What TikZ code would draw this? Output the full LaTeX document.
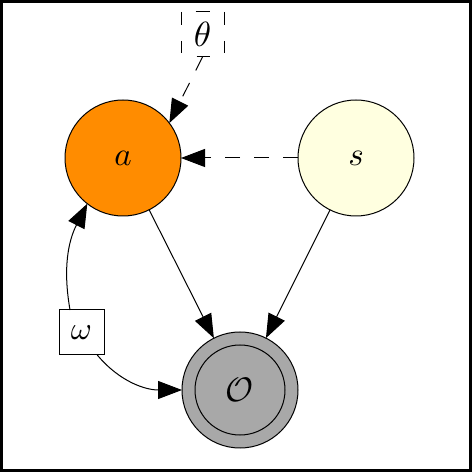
\documentclass[tikz,border=0pt]{standalone}
\usepackage{graphicx}
\usetikzlibrary{arrows.meta}
\definecolor{aorange}{HTML}{FF8C00}
\definecolor{syellow}{HTML}{FFFFE0}
\definecolor{ogray}{HTML}{A8A8A8}
\newcommand{\bigtxt}[2]{\scalebox{#1}{$#2$}}
\begin{document}
\begin{tikzpicture}[x=1pt,y=1pt,
  varnode/.style={circle,draw=black,line width=1pt,minimum size=116pt,inner sep=0pt,outer sep=0pt},
  boxnode/.style={rectangle,draw=black,line width=1pt,minimum width=45pt,minimum height=45pt,inner sep=0pt,outer sep=0pt},
  edgeline/.style={line width=1pt,-{Triangle[length=24pt,width=18pt]}},
  dashedge/.style={edgeline,dash pattern=on 15pt off 14pt},
  boxdash/.style={line width=1pt}]
\useasboundingbox (0,0) rectangle (472,472);
\draw[line width=3pt] (1.5,1.5) rectangle (470.5,470.5);
\node[varnode,fill=aorange] (a) at (123,314) {\bigtxt{3.3}{a}};
\node[varnode,fill=syellow] (s) at (356,314) {\bigtxt{3.3}{s}};
\node[varnode,fill=ogray] (O) at (240,82) {};
\node[circle,draw=black,line width=1pt,minimum size=90pt,inner sep=0pt] (Oin) at (O.center) {\bigtxt{3.4}{\mathcal{O}}};
\node[boxnode,fill=white] (w) at (81.5,139.5) {\bigtxt{3.2}{\omega}};
\node[boxnode,minimum width=43pt,draw=none] (th) at (202.5,437.5) {\bigtxt{3.5}{\theta}};
\draw[boxdash,dash pattern=on 13pt off 16pt on 12pt off 10pt] (th.north west) -- (th.south west);
\draw[boxdash,dash pattern=on 13pt off 16pt on 12pt off 10pt] (th.north east) -- (th.south east);
\draw[boxdash] ([xshift=-7pt]th.north) -- ([xshift=7pt]th.north);
\draw[boxdash] ([xshift=-6pt]th.south) -- ([xshift=7pt]th.south);
\draw[edgeline] (a) -- (O);
\draw[edgeline] (s) -- (O);
\draw[dashedge] (s) -- (a);
\draw[dashedge] (th.south) -- (a.37.5);
\draw[edgeline] (w.117) to[out=100,in=243] (a.232.5);
\draw[edgeline] (w.-55) to[out=-50,in=180] (O.west);
\end{tikzpicture}
\end{document}
